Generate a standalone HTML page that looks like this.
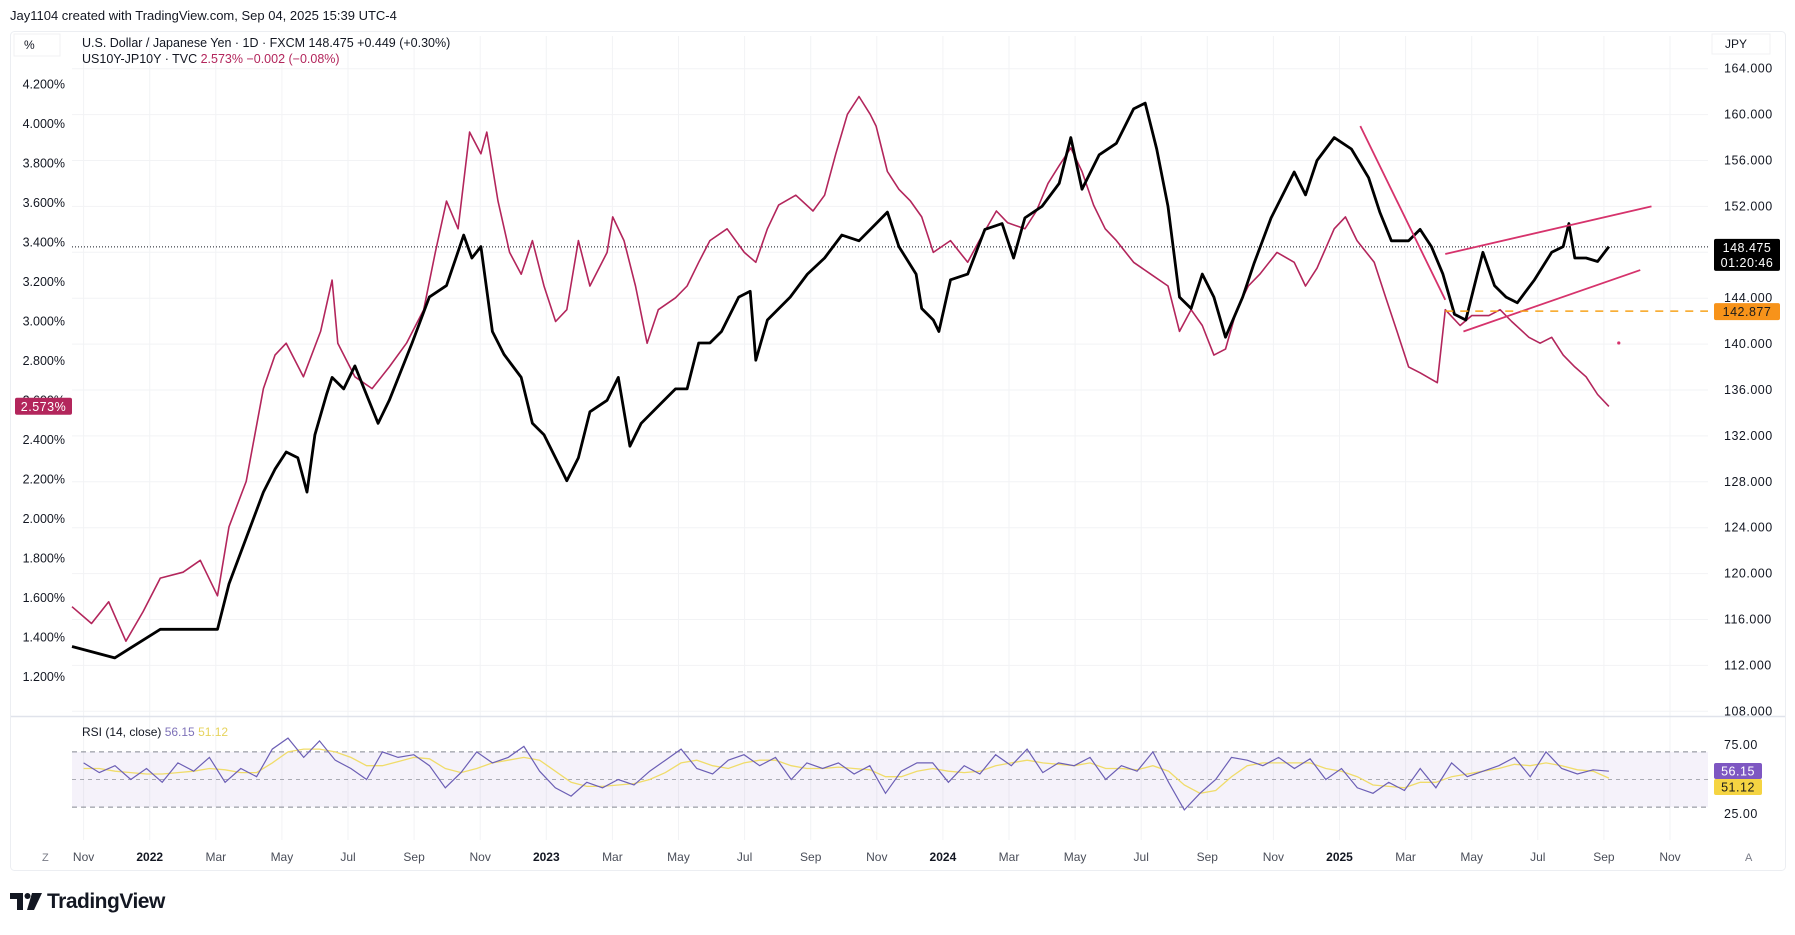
<!DOCTYPE html>
<html><head><meta charset="utf-8">
<style>
html,body{margin:0;padding:0;background:#fff;}
body{width:1795px;height:930px;position:relative;overflow:hidden;font-family:"Liberation Sans",sans-serif;}
svg text{font-family:"Liberation Sans",sans-serif;}
</style></head>
<body>
<svg id="chart" width="1795" height="930" viewBox="0 0 1795 930" xmlns="http://www.w3.org/2000/svg">
  <text x="10" y="20" font-size="13" fill="#131722">Jay1104 created with TradingView.com, Sep 04, 2025 15:39 UTC-4</text>
  <rect x="10.5" y="31.5" width="1775" height="839" rx="4" fill="#fff" stroke="#eceef2"/>
  <g id="grid"></g>
  <g id="axes"></g>
  <g id="series"></g>
  <g id="rsi"></g>
  <g id="labels"></g>
  <rect x="14" y="34" width="46" height="22" fill="#fff" stroke="#f0f1f3"/>
  <text x="24" y="49" font-size="12" fill="#131722">%</text>
  <text x="82" y="47" font-size="12.5" fill="#131722">U.S. Dollar / Japanese Yen · 1D · FXCM  148.475  +0.449 (+0.30%)</text>
  <text x="82" y="63" font-size="12.5" fill="#131722">US10Y-JP10Y · TVC <tspan fill="#b3265c">2.573%  −0.002 (−0.08%)</tspan></text>
  <rect x="1712" y="34" width="58" height="20" fill="#fff" stroke="#f0f1f3"/>
  <text x="1725" y="48" font-size="12" fill="#131722">JPY</text>
  <text x="42" y="861" font-size="11" fill="#787b86">Z</text>
  <text x="1745" y="861" font-size="11" fill="#787b86">A</text>
  <g>
    <path d="M10,893 h13 v17 h-6 v-11 h-7 z" fill="#131722"/>
    <circle cx="27.5" cy="896" r="3" fill="#131722"/>
    <path d="M32,893 h10 l-8,17 h-7 z" fill="#131722"/>
    <text x="47" y="908" font-size="21" font-weight="bold" fill="#131722" letter-spacing="-0.5">TradingView</text>
  </g>
</svg>
<script>
// ---- data ----
const monthLabels = ["Nov","2022","Mar","May","Jul","Sep","Nov","2023","Mar","May","Jul","Sep","Nov","2024","Mar","May","Jul","Sep","Nov","2025","Mar","May","Jul","Sep","Nov"];
const monthLabelPos = [0,2,4,6,8,10,12,14,16,18,20,22,24,26,28,30,32,34,36,38,40,42,44,46,48];
const leftTicks = [4.2,4.0,3.8,3.6,3.4,3.2,3.0,2.8,2.6,2.4,2.2,2.0,1.8,1.6,1.4,1.2];
const rightTicks = [164,160,156,152,148,144,140,136,132,128,124,120,116,112,108];
const usdMonths = [-0.35,0.94,2.32,4.05,4.40,4.92,5.44,5.79,6.13,6.48,6.76,7.0,7.35,7.52,7.87,8.21,8.91,9.25,9.94,10.46,10.98,11.5,11.75,12.02,12.37,12.72,13.24,13.58,13.93,14.45,14.62,14.97,15.32,15.84,16.18,16.53,16.87,17.39,17.91,18.26,18.61,18.95,19.3,19.82,20.17,20.34,20.69,21.38,21.9,22.42,22.94,23.46,23.98,24.32,24.67,25.19,25.36,25.71,25.88,26.23,26.75,27.27,27.79,28.14,28.48,29.0,29.52,29.87,30.21,30.73,31.25,31.77,32.12,32.47,32.81,33.16,33.51,33.85,34.2,34.55,35.07,35.41,35.93,36.28,36.63,36.97,37.32,37.84,38.36,38.88,39.22,39.57,40.09,40.44,40.78,41.13,41.48,41.82,42.17,42.34,42.69,43.04,43.38,43.9,44.42,44.77,44.94,45.12,45.46,45.81,46.15];
const usdValues = [113.65,112.65,115.15,115.15,119.1,123.1,127.1,129.1,130.6,130.1,127.1,132.1,135.6,137.1,136.1,138.1,133.1,135.1,140.1,144.1,145.1,149.5,147.5,148.5,141.1,139.1,137.1,133.1,132.1,129.1,128.1,130.1,134.1,135.1,137.1,131.1,133.1,134.6,136.1,136.1,140.1,140.1,141.1,144.1,144.6,138.6,142.1,144.1,146.1,147.5,149.5,149.0,150.5,151.5,148.5,146.1,143.1,142.1,141.1,145.6,146.1,150.0,150.5,147.5,151.0,152.0,154.0,158.0,153.5,156.5,157.5,160.5,161.0,157.0,152.0,144.1,143.1,146.1,144.1,140.6,144.1,147.0,151.0,153.0,155.0,153.0,156.0,158.0,157.0,154.5,151.5,149.0,149.0,150.0,148.5,146.1,142.6,142.1,146.1,148.0,145.1,144.1,143.6,145.6,148.0,148.5,150.5,147.5,147.5,147.2,148.5];
const spreadMonths = [-0.35,0.24,0.76,1.28,1.8,2.32,3.01,3.53,4.05,4.4,4.92,5.44,5.79,6.13,6.65,7.17,7.52,7.69,8.21,8.73,9.25,9.77,10.29,10.64,10.98,11.33,11.68,12.02,12.2,12.54,12.89,13.24,13.58,13.93,14.28,14.62,14.97,15.32,15.84,16.01,16.35,16.7,17.05,17.39,17.91,18.26,18.61,18.95,19.47,19.99,20.34,20.69,21.03,21.55,22.07,22.42,22.76,23.11,23.46,23.8,23.98,24.32,24.67,25.02,25.36,25.71,26.23,26.75,27.1,27.62,27.96,28.48,28.83,29.18,29.52,29.87,30.21,30.56,30.91,31.25,31.77,32.29,32.81,33.16,33.51,33.85,34.2,34.55,34.89,35.24,35.59,36.11,36.63,36.97,37.32,37.84,38.18,38.53,39.05,39.4,39.74,40.09,40.44,40.96,41.2,41.65,42.0,42.52,42.86,43.21,43.73,44.07,44.42,44.77,45.12,45.46,45.81,46.15];
const spreadValues = [1.555,1.47,1.58,1.38,1.53,1.70,1.73,1.79,1.61,1.96,2.19,2.66,2.83,2.89,2.72,2.95,3.21,2.89,2.72,2.66,2.77,2.89,3.06,3.35,3.61,3.47,3.96,3.85,3.96,3.61,3.35,3.24,3.41,3.18,3.0,3.06,3.41,3.18,3.35,3.53,3.41,3.18,2.89,3.06,3.12,3.18,3.30,3.41,3.47,3.35,3.30,3.47,3.59,3.64,3.56,3.64,3.85,4.05,4.14,4.05,3.99,3.76,3.67,3.61,3.53,3.35,3.41,3.30,3.41,3.56,3.50,3.47,3.56,3.70,3.79,3.88,3.76,3.59,3.47,3.41,3.30,3.24,3.18,2.95,3.06,2.98,2.83,2.86,3.06,3.18,3.24,3.35,3.30,3.18,3.27,3.47,3.53,3.41,3.30,3.12,2.95,2.77,2.74,2.69,3.06,2.98,3.03,3.03,3.06,3.0,2.92,2.89,2.92,2.83,2.77,2.72,2.63,2.57];
const rsiValues = [62,55,60,50,58,48,62,56,66,48,58,52,72,80,66,78,64,58,50,70,66,68,60,44,55,70,62,66,74,56,44,38,48,44,50,46,56,64,72,58,54,64,68,60,66,50,62,58,62,54,60,40,56,62,62,48,60,54,68,60,72,55,62,60,66,50,60,56,70,48,28,40,50,66,64,60,66,58,65,50,58,44,40,48,42,58,44,62,52,56,60,66,52,70,58,54,57,56];
const rsiMa = [58,58,56,55,54,54,55,56,58,57,55,55,62,70,72,72,70,66,60,60,63,66,65,58,55,58,62,64,66,64,56,48,45,45,46,47,50,55,62,64,60,58,62,64,64,60,58,58,59,58,57,52,52,56,58,56,55,56,60,62,64,62,61,60,62,58,58,57,60,56,46,40,42,52,60,62,62,62,62,58,56,52,46,45,44,48,48,52,54,56,58,61,60,62,60,57,56,51];
const lastUsd = 148.475, lastSpread = 2.573, lastRsi = 56.15, lastRsiMa = 51.12, hline = 142.877;
const trendDown = [[38.63,159.0],[41.2,143.86]];
const chanUpper = [[41.2,147.85],[47.44,152.0]];
const chanLower = [[41.75,141.1],[47.1,146.45]];
const dotPoint = [46.45,140.1];

// ---- scales ----
const PL=72, PR=1708, PT=36, PB=716, RT=720, RB=840;
const xs = m => 83.6 + m*33.05;
const yR = v => 68.7 + (164-v)*11.475;
const yL = v => 84.7 + (4.2-v)*197.35;
const yRsi = v => 745 + (75-v)*1.38;
const NS="http://www.w3.org/2000/svg";
function mk(parent, tag, attrs){const e=document.createElementNS(NS,tag);for(const k in attrs)e.setAttribute(k,attrs[k]);parent.appendChild(e);return e;}
const grid=document.getElementById('grid'), axes=document.getElementById('axes'), series=document.getElementById('series'), rsi=document.getElementById('rsi'), labels=document.getElementById('labels');

monthLabels.forEach((lab,i)=>{
  const x=xs(monthLabelPos[i]);
  const l=mk(grid,'line',{x1:x,x2:x,y1:PT,y2:RB,stroke:'#f2f3f5','stroke-width':1});
  
  
  const t=mk(axes,'text',{x:x,y:861,'font-size':12,'text-anchor':'middle',fill:/^\d/.test(lab)?'#131722':'#4a4e59','font-weight':/^\d/.test(lab)?'bold':'normal'});
  t.textContent=lab;
  
  
});
rightTicks.forEach(v=>{
  const y=yR(v);
  const l=mk(grid,'line',{x1:PL,x2:PR,y1:y,y2:y,stroke:'#f2f3f5','stroke-width':1});
  
  
  const t=mk(axes,'text',{x:1724,y:y+4,'font-size':12.5,fill:'#131722','letter-spacing':'0.5'});
  t.textContent=v.toFixed(3);
  
  
});
leftTicks.forEach(v=>{
  const t=mk(axes,'text',{x:65,y:yL(v)+4,'font-size':12.5,fill:'#131722','text-anchor':'end'});
  t.textContent=v.toFixed(3)+'%';
  
  
});
const sep=mk(grid,'line',{x1:11,x2:1785,y1:716.5,y2:716.5,stroke:'#e0e3eb','stroke-width':1.5});



const dl=mk(series,'line',{x1:PL,x2:PR,y1:yR(lastUsd),y2:yR(lastUsd),stroke:'#131722','stroke-width':1,'stroke-dasharray':'1,2'});



function pathFrom(ms,vs,yf){return ms.map((m,i)=>(i?'L':'M')+xs(m).toFixed(1)+','+yf(vs[i]).toFixed(1)).join('');}
const sp=mk(series,'path',{d:pathFrom(spreadMonths,spreadValues,yL),fill:'none',stroke:'#b3265c','stroke-width':1.6,'stroke-linejoin':'round'});


const up=mk(series,'path',{d:pathFrom(usdMonths,usdValues,yR),fill:'none',stroke:'#000','stroke-width':2.8,'stroke-linejoin':'round'});



[[trendDown,'trendline-down'],[chanUpper,'channel-upper'],[chanLower,'channel-lower']].forEach(([pts,name])=>{
  const l=mk(series,'line',{x1:xs(pts[0][0]),y1:yR(pts[0][1]),x2:xs(pts[1][0]),y2:yR(pts[1][1]),stroke:'#d6336c','stroke-width':1.8});
  
  
});
const hl=mk(series,'line',{x1:xs(41.2),x2:PR,y1:yR(hline),y2:yR(hline),stroke:'#f7a21b','stroke-width':1.5,'stroke-dasharray':'8,7'});


const dot=mk(series,'circle',{cx:xs(dotPoint[0]),cy:yR(dotPoint[1]),r:1.6,fill:'#d6336c'});



const band=mk(rsi,'rect',{x:PL,y:yRsi(70),width:PR-PL,height:yRsi(30)-yRsi(70),fill:'#7e57c2','fill-opacity':0.08});


[70,50,30].forEach(v=>{
  const l=mk(rsi,'line',{x1:PL,x2:PR,y1:yRsi(v),y2:yRsi(v),stroke:'#787b86','stroke-width':1,'stroke-dasharray':v===50?'4,4':'5,4','stroke-opacity':v===50?0.6:0.9});
  
  
});
const rsiStep = 46.15/(rsiValues.length-1);
const rsiMonths = rsiValues.map((_,i)=>i*rsiStep);
const rm=mk(rsi,'path',{d:pathFrom(rsiMonths,rsiMa,yRsi),fill:'none',stroke:'#f0dc6a','stroke-width':1.3});


const rl=mk(rsi,'path',{d:pathFrom(rsiMonths,rsiValues,yRsi),fill:'none',stroke:'#6c5fb5','stroke-width':1.2});


[[75,'75.00'],[25,'25.00']].forEach(([v,s])=>{
  const t=mk(axes,'text',{x:1724,y:yRsi(v)+4,'font-size':12.5,fill:'#131722','letter-spacing':'0.5'});
  t.textContent=s;
  
  
});
const rt=mk(rsi,'text',{x:82,y:736,'font-size':12,fill:'#131722'});
rt.innerHTML='RSI (14, close) <tspan fill="#7e72b8">56.15</tspan> <tspan fill="#e6d35c">51.12</tspan>';



function tag(x,y,w,h,bg,fg,txt,name,sub){
  const g=mk(labels,'g',{});
  
  
  mk(g,'rect',{x:x,y:y,width:w,height:h,rx:2,fill:bg});
  const t=mk(g,'text',{x:x+w/2,y:sub?y+13:y+h/2+4.5,'font-size':12.5,fill:fg,'text-anchor':'middle','letter-spacing':'0.5'});
  t.textContent=txt;
  if(sub){const t2=mk(g,'text',{x:x+w/2,y:y+28,'font-size':12.5,fill:fg,'text-anchor':'middle','letter-spacing':'0.5'});t2.textContent=sub;}
}
tag(1714,yR(lastUsd)-8,66,32,'#000','#fff',lastUsd.toFixed(3),'last-price-tag','01:20:46');
tag(1714,yR(hline)-8,66,17,'#f7931a','#1b1b1b',hline.toFixed(3),'level-price-tag');
tag(15,yL(lastSpread)-8,57,17,'#b3265c','#fff',lastSpread.toFixed(3)+'%','spread-value-tag');
tag(1714,yRsi(lastRsi)-8,48,16,'#7e57c2','#fff',lastRsi.toFixed(2),'rsi-value-tag');
tag(1714,yRsi(lastRsi)+8,48,16,'#f5d442','#1b1b1b',lastRsiMa.toFixed(2),'rsi-ma-value-tag');
</script>
</body></html>
